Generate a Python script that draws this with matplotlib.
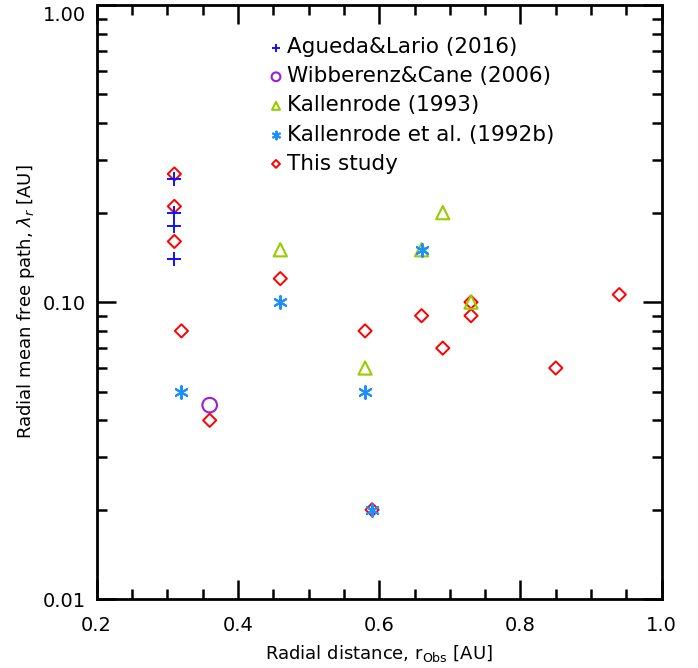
import numpy as np
import matplotlib
matplotlib.use('Agg')
import matplotlib.pyplot as plt
import matplotlib.transforms as mtransforms
from matplotlib.ticker import FixedLocator, NullFormatter, FormatStrFormatter

# Agueda & Lario (2016)
agueda_r = [0.31, 0.31, 0.31, 0.31]
agueda_lam = [0.26, 0.20, 0.18, 0.14]

# Wibberenz & Cane (2006)
wibb_r = [0.36]
wibb_lam = [0.045]

# Kallenrode (1993)
kal93_r = [0.46, 0.58, 0.66, 0.69, 0.73]
kal93_lam = [0.15, 0.06, 0.15, 0.20, 0.10]

# Kallenrode et al. (1992b)
kal92_r = [0.32, 0.46, 0.58, 0.59, 0.66]
kal92_lam = [0.05, 0.10, 0.05, 0.02, 0.15]

# This study
this_r = [0.31, 0.31, 0.31, 0.32, 0.36, 0.46, 0.58, 0.59, 0.66, 0.69, 0.73, 0.73, 0.85, 0.94]
this_lam = [0.27, 0.21, 0.16, 0.08, 0.04, 0.12, 0.08, 0.02, 0.09, 0.07, 0.10, 0.09, 0.06, 0.106]

labels = ['Agueda&Lario (2016)', 'Wibberenz&Cane (2006)', 'Kallenrode (1993)',
          'Kallenrode et al. (1992b)', 'This study']

fig = plt.figure(figsize=(6.98, 6.68), dpi=100)
ax = fig.add_axes([0.1385, 0.103, 0.8095, 0.8895])

h5 = ax.scatter(this_r, this_lam, marker='D', s=45, facecolors='none',
                edgecolors='#ff0000', linewidths=1.4, zorder=2)
h1 = ax.scatter(agueda_r, agueda_lam, marker='+', s=110, color='#1010ff',
                linewidths=1.4, zorder=3)
h2 = ax.scatter(wibb_r, wibb_lam, marker='o', s=110, facecolors='none',
                edgecolors='#9a1fd6', linewidths=1.5, zorder=3)
h3 = ax.scatter(kal93_r, kal93_lam, marker='^', s=90, facecolors='none',
                edgecolors='#99cc00', linewidths=1.5, zorder=3)
h4 = ax.scatter(kal92_r, kal92_lam, marker=(6, 2, 0), s=85, color='#1e8fff',
                linewidths=1.5, zorder=4)

ax.set_yscale('log')
ax.set_xlim(0.2, 1.0)
ax.set_ylim(0.01, 1.0)

ax.xaxis.set_major_locator(FixedLocator([0.2, 0.4, 0.6, 0.8, 1.0]))
ax.xaxis.set_minor_locator(FixedLocator(np.arange(0.25, 1.0, 0.05)))
ax.xaxis.set_major_formatter(FormatStrFormatter('%.1f'))
ax.yaxis.set_major_locator(FixedLocator([0.01, 0.1, 1.0]))
ax.yaxis.set_major_formatter(FormatStrFormatter('%.2f'))
ax.yaxis.set_minor_formatter(NullFormatter())

ax.tick_params(which='both', direction='in', top=True, right=True, width=1.8,
               labelsize=14)
ax.tick_params(axis='x', pad=12)
ax.tick_params(axis='y', pad=8)
ax.tick_params(which='major', length=14)
ax.tick_params(which='minor', length=7)
for sp in ax.spines.values():
    sp.set_linewidth(2)

fig.canvas.draw()
# IDL puts the top label a bit below the axis corner
top_lab = ax.yaxis.get_majorticklabels()[-1]
top_lab.set_transform(top_lab.get_transform() +
                      mtransforms.ScaledTranslation(0, -8 / 100, fig.dpi_scale_trans))

ax.set_xlabel('Radial distance, r$_{\\rm Obs}$ [AU]', fontsize=13, labelpad=6)
ax.set_ylabel('Radial mean free path, $\\lambda_r$ [AU]', fontsize=13, labelpad=4)

leg = ax.legend([h1, h2, h3, h4, h5], labels, loc='upper left',
                bbox_to_anchor=(0.285, 0.96), frameon=False, fontsize=15.5,
                handletextpad=0.05, borderaxespad=0, labelspacing=0.42,
                handlelength=0.9, markerscale=0.6)

fig.savefig('out.png', dpi=100)
